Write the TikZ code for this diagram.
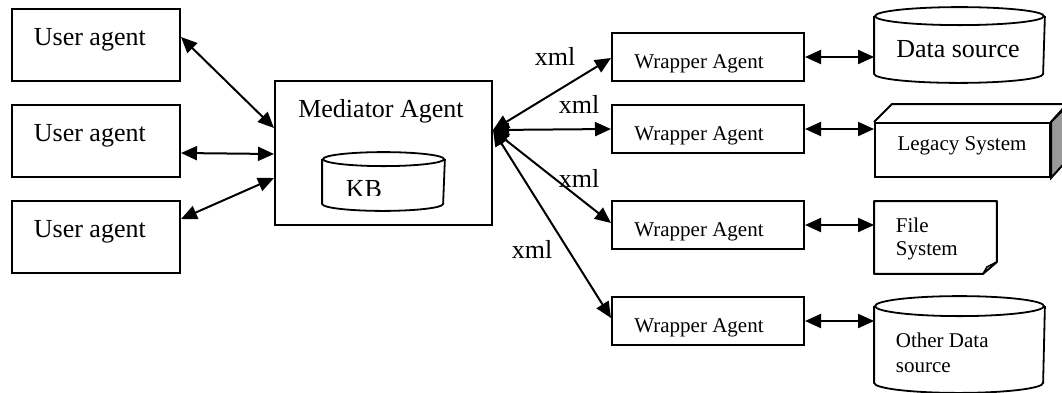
\documentclass[tikz,border=0pt]{standalone}
\usepackage{fontspec}
\setmainfont{Liberation Serif}
\usetikzlibrary{arrows.meta}
\begin{document}
\begin{tikzpicture}[x=1pt,y=-1pt,line width=1.8pt,
  box/.style={draw,rectangle,inner sep=0pt,line width=2pt},
  ghost/.style={rectangle,inner sep=0pt},
  big/.style={font=\fontsize{26}{30}\selectfont,inner sep=0pt},
  small/.style={font=\fontsize{21}{24}\selectfont,inner sep=0pt},
  link/.style={{Triangle[length=16pt,width=14pt]}-{Triangle[length=16pt,width=14pt]},line width=2pt},
  shade3d/.style={fill=black!40}]
\useasboundingbox (0,0) rectangle (1062,392);
\clip (0,0) rectangle (1062,392);

% user agents
\node[box,minimum width=168pt,minimum height=72pt] (ua1) at (96,45) {};
\node[box,minimum width=168pt,minimum height=72pt] (ua2) at (96,141) {};
\node[box,minimum width=168pt,minimum height=72pt] (ua3) at (96,237) {};
\node[big,anchor=base west] (t1) at (33,45) {User agent};
\node[big,anchor=base west] (t2) at (33,141) {User agent};
\node[big,anchor=base west] (t3) at (33,237) {User agent};

% mediator
\node[box,minimum width=217pt,minimum height=144pt] (med) at (383.5,153) {};
\node[big,anchor=base] (tmed) at (381,117) {Mediator Agent};
\node[ghost,minimum width=121pt,minimum height=57pt] (kb) at (383.5,181.5) {};
\draw ([yshift=-7pt]kb.north west) -- ([yshift=7pt]kb.south west)
  arc[start angle=180,end angle=360,x radius=60.5pt,y radius=7pt]
  -- ([yshift=-7pt]kb.north east);
\draw ([yshift=-7pt]kb.north) ellipse[x radius=60.5pt,y radius=7pt];
\begin{scope}
\clip (320,170) rectangle (450,195);
\node[big,anchor=base west] (tkb) at (345,197) {KB};
\end{scope}

% wrappers
\foreach \i/\y in {1/57,2/129,3/225,4/321}{
  \node[box,minimum width=192pt,minimum height=48pt] (wa\i) at (708,\y) {};
  \node[small,anchor=base] (tw\i) at (699,\y+11) {Wrapper Agent};
}

% data source
\node[ghost,minimum width=169pt,minimum height=74pt] (ds) at (959.5,45) {};
\draw ([yshift=-9pt]ds.north west) -- ([yshift=9pt]ds.south west)
  arc[start angle=180,end angle=360,x radius=84.5pt,y radius=9pt]
  -- ([yshift=-9pt]ds.north east);
\draw ([yshift=-9pt]ds.north) ellipse[x radius=84.5pt,y radius=9pt];
\node[big,anchor=base] (tds) at (958,57) {Data source};

% legacy system
\node[box,minimum width=175pt,minimum height=54pt] (leg) at (962.5,150) {};
\draw[line width=2pt] (leg.north west) -- ++(18,-18) -- ++(175,0) -- (leg.north east);
\draw[line width=2pt,shade3d] (leg.north east) -- ++(18,-18) -- ++(0,54) -- (leg.south east) -- cycle;
\node[small,anchor=base] (tleg) at (962,150) {Legacy System};

% file system
\node[ghost,minimum width=121pt,minimum height=71pt] (fs) at (935.5,237.5) {};
\draw[line width=2pt,line join=round] (fs.north west) -- (fs.north east) -- ([yshift=12pt]fs.south east)
  -- ([xshift=-14pt]fs.south east) -- (fs.south west) -- cycle;
\draw[line width=1.4pt,line join=round,shade3d] ([yshift=12pt]fs.south east) -- ([xshift=-14pt]fs.south east)
  -- ([xshift=-10pt,yshift=7pt]fs.south east) -- cycle;
\node[small,anchor=base west] (tfs1) at (895,232) {File};
\node[small,anchor=base west] (tfs2) at (895,255) {System};

% other data source
\node[ghost,minimum width=169pt,minimum height=95pt] (ods) at (959.5,344.5) {};
\draw ([yshift=-10pt]ods.north west) -- ([yshift=10pt]ods.south west)
  arc[start angle=180,end angle=360,x radius=84.5pt,y radius=10pt]
  -- ([yshift=-10pt]ods.north east);
\draw ([yshift=-10pt]ods.north) ellipse[x radius=84.5pt,y radius=10pt];
\node[small,anchor=base west] (tods1) at (895,347) {Other Data};
\node[small,anchor=base west] (tods2) at (895,372) {source};

% user agent links
\draw[link] ([yshift=8pt]ua1.east) -- ([yshift=25pt]med.west);
\draw[link] ([yshift=-12pt]ua2.east) -- ([yshift=-1pt]med.west);
\draw[link] ([yshift=18pt]ua3.east) -- ([yshift=-25pt]med.west);

% mediator to wrappers
\coordinate (hub) at ([yshift=23pt]med.east);
\draw[link] (hub) -- ([yshift=-1pt]wa1.west);
\draw[link] (hub) -- (wa2.west);
\draw[link] (hub) -- ([yshift=2pt]wa3.west);
\draw[link] (hub) -- ([yshift=3pt]wa4.west);
\node[big,anchor=base] (x1) at (555,65) {xml};
\node[big,anchor=base] (x2) at (579,113) {xml};
\node[big,anchor=base] (x3) at (579,187) {xml};
\node[big,anchor=base] (x4) at (532,258) {xml};

% wrappers to sources
\draw[link] (wa1.east) -- (wa1.east -| ds.west);
\draw[link] (wa2.east) -- (wa2.east -| leg.west);
\draw[link] (wa3.east) -- (wa3.east -| fs.west);
\draw[link] (wa4.east) -- (wa4.east -| ods.west);
\end{tikzpicture}
\end{document}
